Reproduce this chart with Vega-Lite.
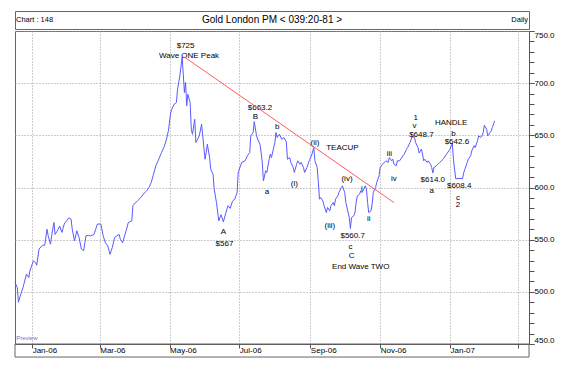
{
  "$schema": "https://vega.github.io/schema/vega-lite/v6.json",
  "padding": {"left": 12, "top": 10, "right": 5, "bottom": 5},
  "background": "white",
  "spacing": 0,
  "config": {
    "font": "Liberation Sans",
    "view": {"stroke": "#666666"},
    "axis": {"labelFont": "Liberation Sans", "labelColor": "#000000"}
  },
  "datasets": {
    "series": [
      {"date": "2005-12-17", "price": 509},
      {"date": "2005-12-19", "price": 504},
      {"date": "2005-12-20", "price": 490},
      {"date": "2005-12-22", "price": 497.7},
      {"date": "2005-12-24", "price": 504},
      {"date": "2005-12-27", "price": 517},
      {"date": "2005-12-29", "price": 513.7},
      {"date": "2005-12-30", "price": 520},
      {"date": "2006-01-02", "price": 529.7},
      {"date": "2006-01-04", "price": 528},
      {"date": "2006-01-05", "price": 525.5},
      {"date": "2006-01-07", "price": 541},
      {"date": "2006-01-10", "price": 544.7},
      {"date": "2006-01-12", "price": 544.7},
      {"date": "2006-01-14", "price": 560},
      {"date": "2006-01-15", "price": 553.7},
      {"date": "2006-01-17", "price": 545.7},
      {"date": "2006-01-18", "price": 553.7},
      {"date": "2006-01-20", "price": 566.4},
      {"date": "2006-01-21", "price": 555},
      {"date": "2006-01-23", "price": 558.5},
      {"date": "2006-01-25", "price": 563},
      {"date": "2006-01-27", "price": 557},
      {"date": "2006-01-29", "price": 565},
      {"date": "2006-01-31", "price": 568},
      {"date": "2006-02-02", "price": 571},
      {"date": "2006-02-04", "price": 569.6},
      {"date": "2006-02-05", "price": 560},
      {"date": "2006-02-07", "price": 549},
      {"date": "2006-02-09", "price": 558.5},
      {"date": "2006-02-11", "price": 552},
      {"date": "2006-02-13", "price": 541},
      {"date": "2006-02-15", "price": 539.5},
      {"date": "2006-02-17", "price": 553.7},
      {"date": "2006-02-19", "price": 554},
      {"date": "2006-02-21", "price": 553.7},
      {"date": "2006-02-24", "price": 555},
      {"date": "2006-02-27", "price": 565},
      {"date": "2006-03-02", "price": 565},
      {"date": "2006-03-04", "price": 553.7},
      {"date": "2006-03-06", "price": 547},
      {"date": "2006-03-08", "price": 544},
      {"date": "2006-03-10", "price": 536},
      {"date": "2006-03-12", "price": 542.5},
      {"date": "2006-03-14", "price": 552},
      {"date": "2006-03-16", "price": 553.7},
      {"date": "2006-03-18", "price": 555},
      {"date": "2006-03-19", "price": 550.4},
      {"date": "2006-03-21", "price": 547},
      {"date": "2006-03-24", "price": 558.5},
      {"date": "2006-03-26", "price": 566.4},
      {"date": "2006-03-29", "price": 568},
      {"date": "2006-03-30", "price": 582.5},
      {"date": "2006-03-31", "price": 584},
      {"date": "2006-04-03", "price": 587.2},
      {"date": "2006-04-06", "price": 590.4},
      {"date": "2006-04-08", "price": 593.6},
      {"date": "2006-04-11", "price": 596.8},
      {"date": "2006-04-13", "price": 600},
      {"date": "2006-04-15", "price": 604.8},
      {"date": "2006-04-17", "price": 612.7},
      {"date": "2006-04-19", "price": 620.8},
      {"date": "2006-04-21", "price": 625.6},
      {"date": "2006-04-24", "price": 633.5},
      {"date": "2006-04-26", "price": 638.3},
      {"date": "2006-04-28", "price": 644.8},
      {"date": "2006-04-30", "price": 654.3},
      {"date": "2006-05-02", "price": 671.9},
      {"date": "2006-05-03", "price": 675},
      {"date": "2006-05-05", "price": 679.8},
      {"date": "2006-05-07", "price": 681.5},
      {"date": "2006-05-08", "price": 694.2},
      {"date": "2006-05-10", "price": 707},
      {"date": "2006-05-12", "price": 725},
      {"date": "2006-05-13", "price": 708.6},
      {"date": "2006-05-14", "price": 691},
      {"date": "2006-05-15", "price": 700.6},
      {"date": "2006-05-16", "price": 678.3},
      {"date": "2006-05-17", "price": 689.4},
      {"date": "2006-05-19", "price": 681.5},
      {"date": "2006-05-20", "price": 655.9},
      {"date": "2006-05-21", "price": 651},
      {"date": "2006-05-23", "price": 665.4},
      {"date": "2006-05-24", "price": 643.1},
      {"date": "2006-05-27", "price": 649.5},
      {"date": "2006-05-29", "price": 660.7},
      {"date": "2006-05-30", "price": 649.5},
      {"date": "2006-06-01", "price": 627.1},
      {"date": "2006-06-02", "price": 633.5},
      {"date": "2006-06-03", "price": 641.5},
      {"date": "2006-06-05", "price": 628.7},
      {"date": "2006-06-06", "price": 617.5},
      {"date": "2006-06-08", "price": 612.7},
      {"date": "2006-06-09", "price": 598.4},
      {"date": "2006-06-11", "price": 585.6},
      {"date": "2006-06-13", "price": 568},
      {"date": "2006-06-15", "price": 574},
      {"date": "2006-06-17", "price": 567},
      {"date": "2006-06-20", "price": 579},
      {"date": "2006-06-21", "price": 582.5},
      {"date": "2006-06-23", "price": 580},
      {"date": "2006-06-25", "price": 587},
      {"date": "2006-06-27", "price": 588.8},
      {"date": "2006-06-29", "price": 595},
      {"date": "2006-06-30", "price": 614.4},
      {"date": "2006-07-03", "price": 624},
      {"date": "2006-07-06", "price": 625.6},
      {"date": "2006-07-08", "price": 630.4},
      {"date": "2006-07-10", "price": 633.5},
      {"date": "2006-07-11", "price": 649.5},
      {"date": "2006-07-13", "price": 652.7},
      {"date": "2006-07-14", "price": 663.2},
      {"date": "2006-07-16", "price": 649.5},
      {"date": "2006-07-17", "price": 646.3},
      {"date": "2006-07-19", "price": 641.5},
      {"date": "2006-07-20", "price": 633.5},
      {"date": "2006-07-21", "price": 624},
      {"date": "2006-07-22", "price": 606.4},
      {"date": "2006-07-24", "price": 616},
      {"date": "2006-07-25", "price": 614.4},
      {"date": "2006-07-27", "price": 627.1},
      {"date": "2006-07-28", "price": 631.9},
      {"date": "2006-07-29", "price": 628.7},
      {"date": "2006-07-31", "price": 638.3},
      {"date": "2006-08-01", "price": 643.1},
      {"date": "2006-08-02", "price": 652.7},
      {"date": "2006-08-03", "price": 647.9},
      {"date": "2006-08-05", "price": 651},
      {"date": "2006-08-07", "price": 646.3},
      {"date": "2006-08-09", "price": 647.9},
      {"date": "2006-08-11", "price": 643.8},
      {"date": "2006-08-12", "price": 627.1},
      {"date": "2006-08-14", "price": 628.7},
      {"date": "2006-08-15", "price": 624},
      {"date": "2006-08-17", "price": 619.2},
      {"date": "2006-08-18", "price": 614.4},
      {"date": "2006-08-20", "price": 622.3},
      {"date": "2006-08-21", "price": 625.6},
      {"date": "2006-08-23", "price": 622.3},
      {"date": "2006-08-24", "price": 624},
      {"date": "2006-08-26", "price": 619.2},
      {"date": "2006-08-27", "price": 614.4},
      {"date": "2006-08-29", "price": 619.2},
      {"date": "2006-08-30", "price": 622.3},
      {"date": "2006-08-31", "price": 625.6},
      {"date": "2006-09-02", "price": 630.4},
      {"date": "2006-09-04", "price": 638.3},
      {"date": "2006-09-05", "price": 625.6},
      {"date": "2006-09-07", "price": 619.2},
      {"date": "2006-09-08", "price": 604.8},
      {"date": "2006-09-09", "price": 588.8},
      {"date": "2006-09-10", "price": 590.4},
      {"date": "2006-09-12", "price": 587},
      {"date": "2006-09-13", "price": 582.5},
      {"date": "2006-09-15", "price": 576},
      {"date": "2006-09-16", "price": 580.8},
      {"date": "2006-09-18", "price": 577.7},
      {"date": "2006-09-19", "price": 582.5},
      {"date": "2006-09-21", "price": 585.6},
      {"date": "2006-09-22", "price": 582.5},
      {"date": "2006-09-23", "price": 588.8},
      {"date": "2006-09-25", "price": 592},
      {"date": "2006-09-26", "price": 595.2},
      {"date": "2006-09-28", "price": 600},
      {"date": "2006-09-29", "price": 601.6},
      {"date": "2006-10-01", "price": 595.2},
      {"date": "2006-10-02", "price": 585.6},
      {"date": "2006-10-04", "price": 576},
      {"date": "2006-10-05", "price": 571.2},
      {"date": "2006-10-06", "price": 560.7},
      {"date": "2006-10-07", "price": 571.2},
      {"date": "2006-10-09", "price": 572.9},
      {"date": "2006-10-10", "price": 576},
      {"date": "2006-10-11", "price": 585.6},
      {"date": "2006-10-12", "price": 592},
      {"date": "2006-10-14", "price": 593.6},
      {"date": "2006-10-15", "price": 596.8},
      {"date": "2006-10-16", "price": 595.2},
      {"date": "2006-10-17", "price": 596.8},
      {"date": "2006-10-19", "price": 601.6},
      {"date": "2006-10-20", "price": 598.4},
      {"date": "2006-10-21", "price": 585.6},
      {"date": "2006-10-22", "price": 576},
      {"date": "2006-10-24", "price": 577.7},
      {"date": "2006-10-25", "price": 584},
      {"date": "2006-10-26", "price": 595.2},
      {"date": "2006-10-28", "price": 600},
      {"date": "2006-10-29", "price": 604.8},
      {"date": "2006-10-31", "price": 611.2},
      {"date": "2006-11-01", "price": 619.2},
      {"date": "2006-11-03", "price": 622.3},
      {"date": "2006-11-06", "price": 625.6},
      {"date": "2006-11-08", "price": 624},
      {"date": "2006-11-09", "price": 628.7},
      {"date": "2006-11-11", "price": 625.6},
      {"date": "2006-11-12", "price": 627.1},
      {"date": "2006-11-13", "price": 622.3},
      {"date": "2006-11-15", "price": 620.8},
      {"date": "2006-11-16", "price": 625.6},
      {"date": "2006-11-18", "price": 625.6},
      {"date": "2006-11-21", "price": 630.4},
      {"date": "2006-11-22", "price": 632},
      {"date": "2006-11-24", "price": 636.7},
      {"date": "2006-11-25", "price": 638.3},
      {"date": "2006-11-27", "price": 643.1},
      {"date": "2006-11-29", "price": 648.7},
      {"date": "2006-12-01", "price": 647.9},
      {"date": "2006-12-02", "price": 643.1},
      {"date": "2006-12-04", "price": 638.3},
      {"date": "2006-12-05", "price": 633},
      {"date": "2006-12-07", "price": 636.7},
      {"date": "2006-12-08", "price": 632},
      {"date": "2006-12-09", "price": 625.6},
      {"date": "2006-12-10", "price": 627.1},
      {"date": "2006-12-12", "price": 624},
      {"date": "2006-12-13", "price": 625.6},
      {"date": "2006-12-15", "price": 622.3},
      {"date": "2006-12-16", "price": 619.2},
      {"date": "2006-12-17", "price": 614},
      {"date": "2006-12-18", "price": 619.2},
      {"date": "2006-12-20", "price": 620.8},
      {"date": "2006-12-23", "price": 624},
      {"date": "2006-12-26", "price": 627.1},
      {"date": "2006-12-29", "price": 632},
      {"date": "2007-01-01", "price": 636.7},
      {"date": "2007-01-03", "price": 642.6},
      {"date": "2007-01-04", "price": 627.1},
      {"date": "2007-01-05", "price": 617.5},
      {"date": "2007-01-06", "price": 608.4},
      {"date": "2007-01-09", "price": 608.6},
      {"date": "2007-01-12", "price": 608.6},
      {"date": "2007-01-13", "price": 614.4},
      {"date": "2007-01-14", "price": 617.5},
      {"date": "2007-01-16", "price": 624},
      {"date": "2007-01-17", "price": 627.1},
      {"date": "2007-01-19", "price": 630.4},
      {"date": "2007-01-20", "price": 635.1},
      {"date": "2007-01-22", "price": 640},
      {"date": "2007-01-23", "price": 638.3},
      {"date": "2007-01-25", "price": 644.8},
      {"date": "2007-01-26", "price": 649.5},
      {"date": "2007-01-28", "price": 647.9},
      {"date": "2007-01-29", "price": 649.5},
      {"date": "2007-01-30", "price": 652.7},
      {"date": "2007-01-31", "price": 659.7},
      {"date": "2007-02-02", "price": 655.9},
      {"date": "2007-02-03", "price": 649.5},
      {"date": "2007-02-05", "price": 652.7},
      {"date": "2007-02-06", "price": 654.3},
      {"date": "2007-02-07", "price": 657.5},
      {"date": "2007-02-09", "price": 663.9}
    ],
    "notes": [
      {"date": "2006-05-15", "price": 736, "label": "$725"},
      {"date": "2006-05-18", "price": 726.5, "label": "Wave ONE Peak"},
      {"date": "2006-07-19", "price": 676.2, "label": "$663.2"},
      {"date": "2006-07-15", "price": 667.6, "label": "B"},
      {"date": "2006-08-03", "price": 658.2, "label": "b"},
      {"date": "2006-07-25", "price": 595.9, "label": "a"},
      {"date": "2006-08-18", "price": 603.2, "label": "(i)"},
      {"date": "2006-09-05", "price": 643.1, "label": "(ii)"},
      {"date": "2006-09-29", "price": 637.4, "label": "TEACUP"},
      {"date": "2006-10-03", "price": 608, "label": "(iv)"},
      {"date": "2006-10-16", "price": 599, "label": "i"},
      {"date": "2006-10-22", "price": 569.6, "label": "ii"},
      {"date": "2006-09-18", "price": 563.3, "label": "(iii)"},
      {"date": "2006-10-08", "price": 553.7, "label": "$560.7"},
      {"date": "2006-10-06", "price": 543.4, "label": "c"},
      {"date": "2006-10-07", "price": 533.9, "label": "C"},
      {"date": "2006-10-15", "price": 524, "label": "End Wave TWO"},
      {"date": "2006-11-09", "price": 631.9, "label": "iii"},
      {"date": "2006-11-13", "price": 608.6, "label": "iv"},
      {"date": "2006-12-02", "price": 667, "label": "1"},
      {"date": "2006-12-01", "price": 659.3, "label": "v"},
      {"date": "2006-12-07", "price": 650.6, "label": "$648.7"},
      {"date": "2007-01-02", "price": 661.6, "label": "HANDLE"},
      {"date": "2007-01-04", "price": 651.1, "label": "b"},
      {"date": "2007-01-07", "price": 643.8, "label": "$642.6"},
      {"date": "2006-12-17", "price": 607.4, "label": "$614.0"},
      {"date": "2006-12-16", "price": 596.8, "label": "a"},
      {"date": "2007-01-09", "price": 601.6, "label": "$608.4"},
      {"date": "2007-01-08", "price": 590.4, "label": "c"},
      {"date": "2007-01-08", "price": 583, "label": "2"},
      {"date": "2006-06-17", "price": 556.9, "label": "A"},
      {"date": "2006-06-18", "price": 545.6, "label": "$567"}
    ]
  },
  "vconcat": [
    {
      "width": 514,
      "height": 18,
      "data": {"values": [
        {"slot": "left", "label": "Chart : 148"},
        {"slot": "mid", "label": "Gold London PM < 039:20-81 >"},
        {"slot": "right", "label": "Daily"}
      ]},
      "encoding": {
        "x": {"field": "slot", "type": "nominal", "scale": {"type": "point", "domain": ["left", "mid", "right"], "padding": 0}, "axis": null},
        "text": {"field": "label"}
      },
      "layer": [
        {"transform": [{"filter": "datum.slot === 'left'"}], "mark": {"type": "text", "align": "left", "baseline": "middle", "fontSize": 7.5, "dx": 1, "color": "#000000"}},
        {"transform": [{"filter": "datum.slot === 'mid'"}], "mark": {"type": "text", "align": "center", "baseline": "middle", "fontSize": 10, "color": "#000000"}},
        {"transform": [{"filter": "datum.slot === 'right'"}], "mark": {"type": "text", "align": "right", "baseline": "middle", "fontSize": 7.5, "dx": -1, "color": "#000000"}}
      ]
    },
    {
      "width": 514,
      "height": 313,
      "resolve": {"axis": {"y": "independent"}},
      "layer": [
        {
          "data": {"name": "series"},
          "mark": {"type": "line", "color": "#5a5aff", "strokeWidth": 1},
          "encoding": {
            "x": {
              "field": "date", "type": "temporal",
              "scale": {"type": "utc", "domain": [{"year": 2005, "month": 12, "date": 17, "utc": true}, {"year": 2007, "month": 3, "date": 11, "utc": true}]},
              "axis": {
                "title": null,
                "values": [
                  {"year": 2006, "month": 1, "date": 1, "utc": true},
                  {"year": 2006, "month": 3, "date": 1, "utc": true},
                  {"year": 2006, "month": 5, "date": 1, "utc": true},
                  {"year": 2006, "month": 7, "date": 1, "utc": true},
                  {"year": 2006, "month": 9, "date": 1, "utc": true},
                  {"year": 2006, "month": 11, "date": 1, "utc": true},
                  {"year": 2007, "month": 1, "date": 1, "utc": true},
                  {"year": 2007, "month": 3, "date": 1, "utc": true}
                ],
                "labelExpr": "utcFormat(datum.value, '%b-%y') === 'Mar-07' ? '' : utcFormat(datum.value, '%b-%y')",
                "labelAlign": "left",
                "labelBaseline": "top",
                "labelPadding": -2,
                "labelOffset": 0,
                "labelFlush": false,
                "labelOverlap": false,
                "labelFontSize": 8,
                "tickSize": 4,
                "tickColor": "#555555",
                "domainColor": "#555555",
                "grid": true,
                "gridDash": [1, 2],
                "gridColor": "#9a9a9a"
              }
            },
            "y": {
              "field": "price", "type": "quantitative",
              "scale": {"domain": [450, 750], "zero": false, "nice": false},
              "axis": {
                "orient": "right",
                "title": null,
                "values": [450, 500, 550, 600, 650, 700, 750],
                "format": ".1f",
                "labelFontSize": 8,
                "labelPadding": 0,
                "labelFlush": true,
                "labelOverlap": false,
                "tickSize": 5,
                "tickColor": "#555555",
                "domainColor": "#555555",
                "grid": true,
                "gridDash": [1, 2],
                "gridColor": "#9a9a9a"
              }
            }
          }
        },
        {
          "data": {"name": "notes"},
          "mark": {"type": "text", "align": "center", "baseline": "middle", "fontSize": 8, "color": "#000000"},
          "encoding": {
            "x": {"field": "date", "type": "temporal"},
            "y": {
              "field": "price", "type": "quantitative",
              "axis": {
                "orient": "right",
                "title": null,
                "values": [450, 460, 470, 480, 490, 500, 510, 520, 530, 540, 550, 560, 570, 580, 590, 600, 610, 620, 630, 640, 650, 660, 670, 680, 690, 700, 710, 720, 730, 740, 750],
                "labels": false,
                "domain": false,
                "grid": false,
                "tickSize": 5,
                "tickColor": "#555555"
              }
            },
            "text": {"field": "label"}
          }
        },
        {
          "data": {"values": [{"start": "2006-05-14", "end": "2006-11-13", "from": 725, "to": 585.6}]},
          "mark": {"type": "rule", "color": "#ff5c5c", "strokeWidth": 1},
          "encoding": {
            "x": {"field": "start", "type": "temporal"},
            "x2": {"field": "end"},
            "y": {"field": "from", "type": "quantitative", "axis": null},
            "y2": {"field": "to"}
          }
        },
        {
          "data": {"values": [{"date": "2005-12-18", "price": 455.5, "label": "Preview"}]},
          "mark": {"type": "text", "align": "left", "baseline": "middle", "fontSize": 6, "color": "#6f6fd6"},
          "encoding": {
            "x": {"field": "date", "type": "temporal"},
            "y": {"field": "price", "type": "quantitative", "axis": null},
            "text": {"field": "label"}
          }
        },
        {
          "data": {"values": [{}]},
          "mark": {"type": "rect", "filled": false, "color": "#666666", "strokeWidth": 1},
          "encoding": {
            "x": {"datum": {"year": 2005, "month": 12, "date": 17, "utc": true}, "type": "temporal"},
            "x2": {"datum": {"year": 2007, "month": 3, "date": 11, "utc": true}},
            "y": {"datum": 450, "type": "quantitative", "axis": null},
            "y2": {"datum": 437.5}
          }
        }
      ]
    }
  ]
}
